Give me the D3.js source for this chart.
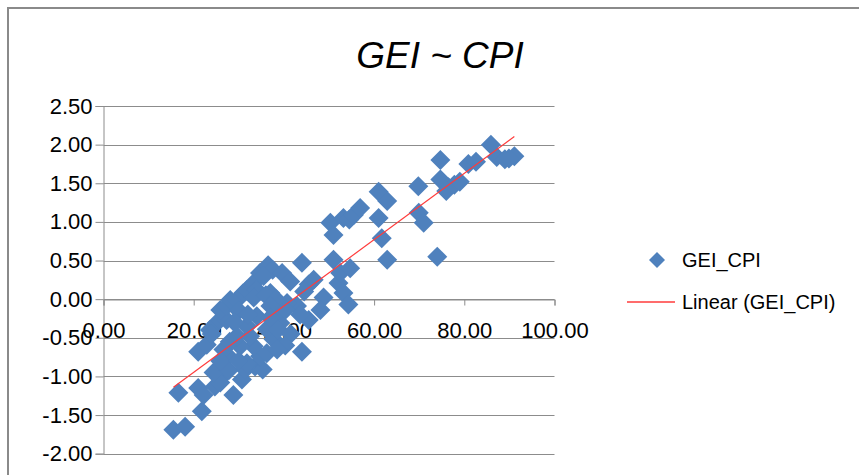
<!DOCTYPE html>
<html><head><meta charset="utf-8">
<script src="https://cdn.jsdelivr.net/npm/d3@7"></script>
<style>
body{margin:0;background:#fff}
svg{display:block}
text{font-family:"Liberation Sans",Arial,sans-serif;fill:#000}
</style>
</head><body>
<svg id="chart" width="859" height="475"></svg>
<script>
// ---- data ----
const chartTitle = "GEI ~ CPI";
const seriesName = "GEI_CPI";
const trendName = "Linear (GEI_CPI)";
const xTicks = [0, 20, 40, 60, 80, 100];
const yTicks = [-2, -1.5, -1, -0.5, 0, 0.5, 1, 1.5, 2, 2.5];
const cpi = [15.5,18.1,16.6,21.8,21.0,22.2,21.0,24.7,28.8,26.2,30.7,31.4,26.2,27.7,33.6,35.3,25.9,24.4,27.8,
  31.8,34.7,33.3,30.3,26.6,25.9,22.9,32.5,37.7,36.2,39.2,31.8,29.6,36.2,
  25.1,27.3,23.6,25.9,27.3,28.1,29.6,31.0,31.8,33.3,34.7,36.5,37.5,35.5,34.0,37.0,33.3,36.0,39.6,41.4,44.0,45.5,44.5,46.6,48.8,
  39.2,42.9,40.7,38.3,37.0,34.0,37.0,40.3,30.0,32.0,29.0,28.0,24.0,30.0,38.7,41.5,40.3,38.5,
  48.1,45.5,43.6,44.0,52.1,52.5,54.7,51.0,53.2,54.3,50.3,51.0,53.2,54.5,55.5,56.9,61.0,62.9,61.0,61.7,62.9,
  69.9,71.0,74.0,69.8,74.7,74.7,76.5,77.8,79.0,76.0,80.9,82.6,85.9,87.2,89.0,91.1,89.9];
const gei = [-1.69,-1.65,-1.21,-1.45,-1.15,-1.24,-0.68,-1.13,-1.24,-1.00,-1.04,-0.91,-0.87,-0.74,-0.87,-0.91,-1.08,-0.95,-0.92,
  -0.83,-0.74,-0.61,-0.61,-0.65,-0.80,-0.59,-0.48,-0.52,-0.39,-0.31,-0.35,-0.48,-0.70,
  -0.31,-0.27,-0.40,-0.14,-0.09,-0.01,-0.01,0.08,0.12,0.21,0.34,0.44,0.38,0.30,0.12,0.08,0.02,0.05,0.34,0.23,0.47,0.19,0.10,0.25,0.02,
  -0.14,-0.09,-0.05,0.00,-0.09,-0.22,-0.24,-0.14,-0.15,-0.20,-0.30,-0.55,-0.45,-0.80,-0.39,-0.45,-0.60,-0.65,
  -0.14,-0.27,-0.20,-0.68,0.21,0.34,0.40,0.51,0.08,-0.07,0.99,0.83,1.05,1.03,1.09,1.18,1.39,1.27,1.05,0.79,0.51,
  1.12,0.99,0.55,1.46,1.80,1.55,1.45,1.48,1.52,1.40,1.75,1.78,2.00,1.84,1.81,1.85,1.82];

const markerColor = "#4f81bd";
const trendColor = "#ff3b3b";
const gridColor = "#8c8c8c";

const svg = d3.select("#chart");
svg.append("rect").attr("width", 859).attr("height", 475).attr("fill", "#fff");
// chart area border
svg.append("rect").attr("x", 8).attr("y", 8).attr("width", 900).attr("height", 500)
  .attr("fill", "none").attr("stroke", "#8a8a8a").attr("stroke-width", 2);

const x = d3.scaleLinear().domain([0, 100]).range([103.5, 554.5]);
const y = d3.scaleLinear().domain([-2, 2.5]).range([453.7, 106]);

// gridlines
svg.append("g").selectAll("line").data(yTicks).join("line")
  .attr("x1", x(0)).attr("x2", x(100))
  .attr("y1", d => Math.round(y(d)) + 0.5).attr("y2", d => Math.round(y(d)) + 0.5)
  .attr("stroke", gridColor).attr("stroke-width", 1);

// y axis
const yAxis = svg.append("g").attr("transform", `translate(${x(0)},0)`)
  .call(d3.axisLeft(y).tickValues(yTicks).tickSize(8).tickPadding(3).tickFormat(d => d.toFixed(2)));
yAxis.select(".domain").attr("stroke", gridColor);
yAxis.selectAll(".tick line").attr("stroke", gridColor);
yAxis.selectAll("text").attr("font-size", 22).attr("font-family", "Liberation Sans, Arial, sans-serif");

// x axis at y = 0
const xAxis = svg.append("g").attr("transform", `translate(0,${Math.round(y(0)) + 0.5})`)
  .call(d3.axisBottom(x).tickValues(xTicks).tickSize(6).tickPadding(17).tickFormat(d => d.toFixed(2)));
xAxis.select(".domain").attr("stroke", gridColor);
xAxis.selectAll(".tick line").attr("stroke", gridColor);
xAxis.selectAll("text").attr("font-size", 22).attr("font-family", "Liberation Sans, Arial, sans-serif");

// markers (squares rotated 45deg = Excel diamond)
const diamond = d3.symbol(d3.symbolSquare, 200);
const pts = cpi.map((v, i) => ({x: v, y: gei[i]}));
svg.append("g").selectAll("path").data(pts).join("path")
  .attr("d", diamond)
  .attr("transform", d => `translate(${x(d.x)},${y(d.y)}) rotate(45)`)
  .attr("fill", markerColor);

// linear trendline (least squares from data)
const mx = d3.mean(cpi), my = d3.mean(gei);
const sxy = d3.sum(cpi, (v, i) => (v - mx) * (gei[i] - my));
const sxx = d3.sum(cpi, v => (v - mx) * (v - mx));
const slope = sxy / sxx, intercept = my - slope * mx;
const [xmin, xmax] = d3.extent(cpi);
svg.append("line")
  .attr("x1", x(xmin)).attr("y1", y(intercept + slope * xmin))
  .attr("x2", x(xmax)).attr("y2", y(intercept + slope * xmax))
  .attr("stroke", trendColor).attr("stroke-width", 1.2);

// title
svg.append("text").attr("x", 440).attr("y", 68).attr("text-anchor", "middle")
  .attr("font-size", 37).attr("font-style", "italic").text(chartTitle);

// legend
const lg = svg.append("g");
lg.append("path").attr("d", d3.symbol(d3.symbolSquare, 128))
  .attr("transform", "translate(657,260) rotate(45)").attr("fill", markerColor);
lg.append("text").attr("x", 682).attr("y", 260).attr("dy", "0.35em").attr("font-size", 20).text(seriesName);
lg.append("line").attr("x1", 627).attr("x2", 675).attr("y1", 302).attr("y2", 302)
  .attr("stroke", trendColor).attr("stroke-width", 1.6);
lg.append("text").attr("x", 682).attr("y", 301.5).attr("dy", "0.35em").attr("font-size", 20).text(trendName);
</script>
</body></html>
